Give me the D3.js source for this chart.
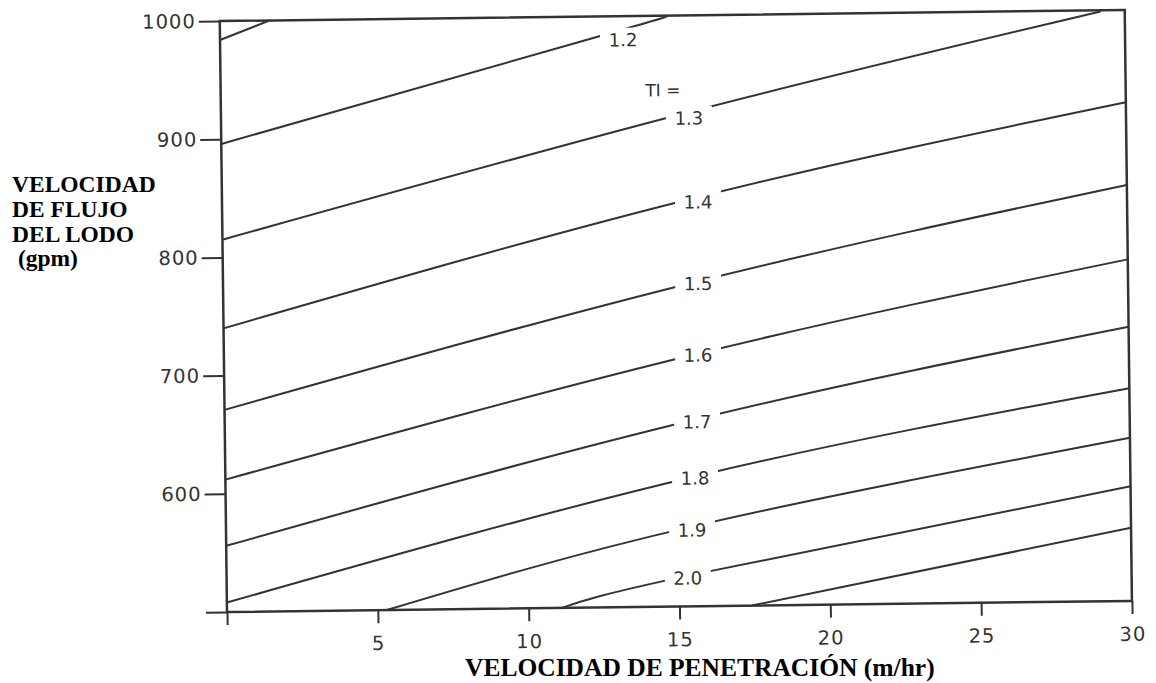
<!DOCTYPE html>
<html>
<head>
<meta charset="utf-8">
<script src="https://cdn.jsdelivr.net/npm/d3@7"></script>
<style>
  html, body { margin: 0; padding: 0; background: #fff; }
  svg { display: block; }
</style>
</head>
<body>
<svg id="chart" width="1156" height="683"></svg>
<script>
// Penetration rate (m/hr) and mud flow rate (gpm) along each TI contour
const contourTI = ["1.1", "1.2", "1.3", "1.4", "1.5", "1.6", "1.7", "1.8", "1.9", "2.0", "2.1"];
const contourRop = [
  [0, 1.66],
  [0, 12.4, 14.8],
  [0, 15.5, 29.2],
  [0, 15.6, 30],
  [0, 15.6, 30],
  [0, 15.6, 30],
  [0, 15.6, 30],
  [0, 15.6, 30],
  [5.3, 15.55, 30],
  [11.1, 15.5, 30],
  [17.4, 30]
];
const contourGpm = [
  [984, 1000],
  [896, 982, 999],
  [815, 918, 999],
  [740, 845, 922],
  [671, 774, 852],
  [612, 713, 789],
  [556, 658, 732],
  [508, 610, 680],
  [500, 568, 638],
  [500, 527, 597],
  [500, 562]
];

// Contour labels and where they sit
const labelText = ["1.2", "1.3", "1.4", "1.5", "1.6", "1.7", "1.8", "1.9", "2.0"];
const labelRop  = [13.36, 15.51, 15.78, 15.75, 15.72, 15.66, 15.57, 15.45, 15.29];
const labelGpm  = [980, 913, 842, 773, 712.5, 656, 608.5, 564.5, 524];
const headerText = "TI =";
const headerRop = 14.66, headerGpm = 937;

// Axis ticks
const xTicks = [0, 5, 10, 15, 20, 25, 30];
const yTicks = [500, 600, 700, 800, 900, 1000];

const svg = d3.select("#chart");
const W = 905, H = 591;
const ink = "#333";
const sans = "'DejaVu Sans', Verdana, sans-serif";

const x = d3.scaleLinear().domain([0, 30]).range([0, W]);
const y = d3.scaleLinear().domain([500, 1000]).range([H, 0]);

// Plot frame, slightly tilted
const g = svg.append("g")
  .attr("transform", "translate(227,612) rotate(-0.7) translate(0," + (-H) + ")");

g.append("clipPath").attr("id", "plotClip")
  .append("rect").attr("x", 0).attr("y", 0).attr("width", W).attr("height", H);

// Contour lines
const line = d3.line()
  .x(d => x(d[0]))
  .y(d => y(d[1]))
  .curve(d3.curveNatural);

const curves = g.append("g").attr("clip-path", "url(#plotClip)");
contourTI.forEach((ti, i) => {
  const pts = contourRop[i].map((r, j) => [r, contourGpm[i][j]]);
  curves.append("path")
    .datum(pts)
    .attr("d", line)
    .attr("fill", "none")
    .attr("stroke", ink)
    .attr("stroke-width", 2);
});

// Labels cut a gap in their contour
const labels = g.append("g");
labelText.forEach((t, i) => {
  const cx = x(labelRop[i]), cy = y(labelGpm[i]);
  labels.append("rect")
    .attr("x", cx - 23).attr("y", cy - 12)
    .attr("width", 46).attr("height", 22)
    .attr("fill", "#fff");
  labels.append("text")
    .attr("x", cx).attr("y", cy)
    .attr("dy", "0.36em")
    .attr("text-anchor", "middle")
    .attr("font-family", sans)
    .attr("font-size", 18)
    .attr("fill", ink)
    .text(t);
});
labels.append("text")
  .attr("x", x(headerRop)).attr("y", y(headerGpm))
  .attr("dy", "0.36em")
  .attr("text-anchor", "middle")
  .attr("font-family", sans)
  .attr("font-size", 17)
  .attr("fill", ink)
  .text(headerText);

// Axes
const xAxis = d3.axisBottom(x)
  .tickValues(xTicks)
  .tickSize(13)
  .tickPadding(13)
  .tickFormat(d => d === 0 ? "" : d);
const yAxis = d3.axisLeft(y)
  .tickValues(yTicks)
  .tickSize(21)
  .tickPadding(3)
  .tickFormat(d => d === 500 ? "" : d);

const gx = g.append("g").attr("transform", "translate(0," + H + ")").call(xAxis);
const gy = g.append("g").call(yAxis);
[gx, gy].forEach(a => {
  a.select(".domain").remove();
  a.selectAll(".tick line").attr("stroke", ink).attr("stroke-width", 2);
  a.selectAll(".tick text")
    .attr("font-family", sans)
    .attr("font-size", 19.5)
    .attr("letter-spacing", 1)
    .attr("fill", ink);
});

// Frame
g.append("rect")
  .attr("x", 0).attr("y", 0).attr("width", W).attr("height", H)
  .attr("fill", "none")
  .attr("stroke", ink)
  .attr("stroke-width", 2.5);

// Axis titles
const serif = "'Liberation Serif', 'Times New Roman', serif";
const yTitle = ["VELOCIDAD", "DE FLUJO", "DEL LODO", "\u00a0(gpm)"];
const yTitleBase = [192, 217, 242, 266];
yTitle.forEach((t, i) => {
  svg.append("text")
    .attr("x", 12).attr("y", yTitleBase[i])
    .attr("font-family", serif)
    .attr("font-weight", "bold")
    .attr("font-size", 23.5)
    .attr("fill", "#000")
    .text(t);
});
svg.append("text")
  .attr("x", 465).attr("y", 676)
  .attr("font-family", serif)
  .attr("font-weight", "bold")
  .attr("font-size", 25.5)
  .attr("fill", "#000")
  .text("VELOCIDAD DE PENETRACIÓN (m/hr)");
</script>
</body>
</html>
